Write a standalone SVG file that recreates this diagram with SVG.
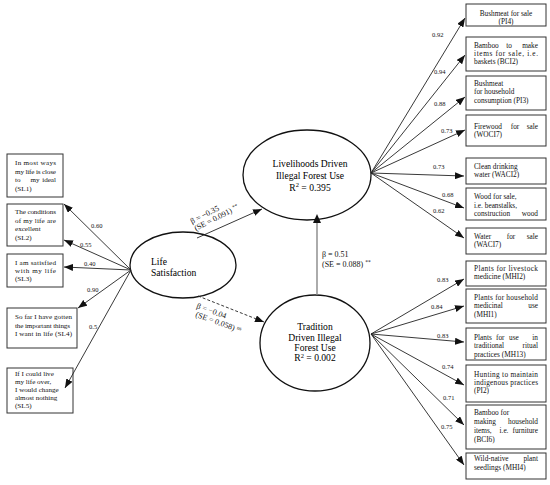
<svg xmlns="http://www.w3.org/2000/svg" width="550" height="485" viewBox="0 0 550 485">
<style>
.bx{fill:#fff;stroke:#333;stroke-width:1}
text{font-family:"Liberation Serif","Times New Roman",serif;fill:#111}
.t{font-size:7.3px}
.tl{font-size:7.1px}
.e{font-size:9.6px;fill:#000}
.c{font-size:6.5px;fill:#555}
.b{font-size:8px;fill:#333}
.m{text-anchor:middle}
.r{text-anchor:end}
.ln{stroke:#222;stroke-width:0.9;fill:none;marker-end:url(#ah)}
.el{fill:#fff;stroke:#111;stroke-width:1.3}
</style>
<defs>
<marker id="ah" markerUnits="userSpaceOnUse" markerWidth="9" markerHeight="7" refX="9" refY="3.5" orient="auto">
<path d="M0,0 L9,3.5 L0,7 z" fill="#111"/>
</marker>
</defs>

<g id="life">
<ellipse class="el" cx="183" cy="265" rx="53" ry="33"/>
<text class="e" x="151" y="265">Life</text>
<text class="e" x="151" y="276">Satisfaction</text>
</g>
<g id="livelihoods">
<ellipse class="el" cx="307" cy="175" rx="64" ry="45"/>
<text class="e m" x="310" y="167">Livelihoods Driven</text>
<text class="e m" x="310" y="179">Illegal Forest Use</text>
<text class="e m" x="310" y="190.5">R<tspan font-size="6.5" dy="-3.5">2</tspan><tspan dy="3.5"> = 0.395</tspan></text>
</g>
<g id="tradition">
<ellipse class="el" cx="315" cy="343" rx="55" ry="48"/>
<text class="e m" x="315" y="330">Tradition</text>
<text class="e m" x="315" y="340.5">Driven Illegal</text>
<text class="e m" x="315" y="351">Forest Use</text>
<text class="e m" x="315" y="361">R<tspan font-size="6.5" dy="-3.5">2</tspan><tspan dy="3.5"> = 0.002</tspan></text>
</g>

<g id="sl1" class="tl">
<rect class="bx" x="7" y="154" width="56" height="43"/>
<text x="15" y="165" textLength="41" lengthAdjust="spacing">In most ways</text>
<text x="15" y="173.5" textLength="41" lengthAdjust="spacing">my life is close</text>
<text x="15" y="182">to</text><text class="m" x="35" y="182">my</text><text class="r" x="56" y="182">ideal</text>
<text x="15" y="190.5">(SL1)</text>
</g>
<g id="sl2" class="tl">
<rect class="bx" x="7" y="204" width="56" height="42"/>
<text x="15" y="214" textLength="41" lengthAdjust="spacing">The conditions</text>
<text x="15" y="222.5" textLength="41" lengthAdjust="spacing">of my life are</text>
<text x="15" y="231">excellent</text>
<text x="15" y="239.5">(SL2)</text>
</g>
<g id="sl3" class="tl">
<rect class="bx" x="7" y="254" width="56" height="33"/>
<text x="15" y="265" textLength="41" lengthAdjust="spacing">I am satisfied</text>
<text x="15" y="273" textLength="41" lengthAdjust="spacing">with my life</text>
<text x="15" y="281">(SL3)</text>
</g>
<g id="sl4" class="tl">
<rect class="bx" x="7" y="308" width="70" height="40"/>
<text x="15" y="319" textLength="57" lengthAdjust="spacing">So far I have gotten</text>
<text x="15" y="327.5" textLength="55" lengthAdjust="spacing">the important things</text>
<text x="15" y="336" textLength="57" lengthAdjust="spacing">I want in life (SL4)</text>
</g>
<g id="sl5" class="tl">
<rect class="bx" x="7" y="368" width="66" height="45"/>
<text x="15" y="376">If I could live</text>
<text x="15" y="384">my life over,</text>
<text x="15" y="392">I would change</text>
<text x="15" y="400">almost nothing</text>
<text x="15" y="408">(SL5)</text>
</g>

<g id="pi4" class="t">
<rect class="bx" x="466" y="4" width="80" height="22"/>
<text class="m" x="506" y="16">Bushmeat for sale</text>
<text class="m" x="506" y="24">(PI4)</text>
</g>
<g id="bci2" class="t">
<rect class="bx" x="466" y="37" width="80" height="34"/>
<text x="474" y="47.5">Bamboo</text><text class="m" x="509" y="47.5">to</text><text class="r" x="538" y="47.5">make</text>
<text x="474" y="55.5" textLength="64" lengthAdjust="spacing">items for sale, i.e.</text>
<text x="474" y="63.5">baskets (BCI2)</text>
</g>
<g id="pi3" class="t">
<rect class="bx" x="466" y="76" width="80" height="34"/>
<text x="474" y="86">Bushmeat</text>
<text x="474" y="94.3">for household</text>
<text x="474" y="102.5">consumption (PI3)</text>
</g>
<g id="woci7" class="t">
<rect class="bx" x="466" y="115" width="80" height="31"/>
<text x="474" y="128.5">Firewood</text><text class="m" x="515" y="128.5">for</text><text class="r" x="538" y="128.5">sale</text>
<text x="474" y="137">(WOCI7)</text>
</g>
<g id="waci2" class="t">
<rect class="bx" x="466" y="158" width="80" height="26"/>
<text x="474" y="168.5">Clean drinking</text>
<text x="474" y="177">water (WACI2)</text>
</g>
<g id="wood" class="t">
<rect class="bx" x="466" y="188" width="80" height="32"/>
<text x="474" y="199">Wood for sale,</text>
<text x="474" y="207.5">i.e. beanstalks,</text>
<text x="474" y="216">construction</text><text class="r" x="538" y="216">wood</text>
</g>
<g id="waci7" class="t">
<rect class="bx" x="466" y="228" width="80" height="26"/>
<text x="474" y="238.5">Water</text><text class="m" x="511" y="238.5">for</text><text class="r" x="538" y="238.5">sale</text>
<text x="474" y="247">(WACI7)</text>
</g>
<g id="mhi2" class="t">
<rect class="bx" x="466" y="261" width="80" height="25"/>
<text x="474" y="270.7" textLength="64" lengthAdjust="spacing">Plants for livestock</text>
<text x="474" y="279">medicine (MHI2)</text>
</g>
<g id="mhi1" class="t">
<rect class="bx" x="466" y="289" width="80" height="34"/>
<text x="474" y="299.5" textLength="64" lengthAdjust="spacing">Plants for household</text>
<text x="474" y="308">medicinal</text><text class="r" x="538" y="308">use</text>
<text x="474" y="316.5">(MHI1)</text>
</g>
<g id="mhi13" class="t">
<rect class="bx" x="466" y="328" width="80" height="32"/>
<text x="474" y="339.5">Plants</text><text x="496" y="339.5">for</text><text x="509" y="339.5">use</text><text class="r" x="538" y="339.5">in</text>
<text x="474" y="348">traditional</text><text class="r" x="538" y="348">ritual</text>
<text x="474" y="356.7">practices (MH13)</text>
</g>
<g id="pi2" class="t">
<rect class="bx" x="466" y="365" width="80" height="37"/>
<text x="474" y="376.7" textLength="64" lengthAdjust="spacing">Hunting to maintain</text>
<text x="474" y="385" textLength="64" lengthAdjust="spacing">indigenous practices</text>
<text x="474" y="393.3">(PI2)</text>
</g>
<g id="bci6" class="t">
<rect class="bx" x="466" y="405" width="80" height="44"/>
<text x="474" y="415">Bamboo for</text>
<text x="474" y="424">making</text><text class="r" x="538" y="424">household</text>
<text x="474" y="433">items,</text><text class="m" x="504" y="433">i.e.</text><text class="r" x="538" y="433">furniture</text>
<text x="474" y="441.7">(BCI6)</text>
</g>
<g id="mhi4" class="t">
<rect class="bx" x="466" y="453" width="80" height="26"/>
<text x="474" y="460.7">Wild-native</text><text class="r" x="538" y="460.7">plant</text>
<text x="474" y="470">seedlings (MHI4)</text>
</g>

<g id="connectors">
<line class="ln" x1="131" y1="270" x2="64" y2="204"/>
<line class="ln" x1="131" y1="270" x2="64" y2="240"/>
<line class="ln" x1="131" y1="270" x2="64" y2="267"/>
<line class="ln" x1="131" y1="270" x2="78" y2="308"/>
<line class="ln" x1="131" y1="270" x2="65" y2="388"/>
<line class="ln" x1="197" y1="238" x2="262" y2="209"/>
<line class="ln" x1="198" y1="296" x2="264" y2="322" stroke-dasharray="3,2"/>
<line x1="317" y1="295" x2="317" y2="222" stroke="#888" stroke-width="1.4"/>
<path d="M313,223 L317,214 L321,223 z" fill="#111"/>
<line class="ln" x1="371" y1="173" x2="465" y2="18"/>
<line class="ln" x1="371" y1="173" x2="465" y2="55"/>
<line class="ln" x1="371" y1="173" x2="465" y2="97"/>
<line class="ln" x1="371" y1="173" x2="465" y2="130"/>
<line class="ln" x1="371" y1="173" x2="464" y2="176"/>
<line class="ln" x1="371" y1="173" x2="464" y2="208"/>
<line class="ln" x1="371" y1="173" x2="464" y2="238"/>
<line class="ln" x1="371" y1="334" x2="464" y2="279"/>
<line class="ln" x1="371" y1="334" x2="464" y2="306"/>
<line class="ln" x1="371" y1="334" x2="464" y2="342"/>
<line class="ln" x1="371" y1="334" x2="464" y2="385"/>
<line class="ln" x1="371" y1="334" x2="464" y2="425"/>
<line class="ln" x1="371" y1="334" x2="464" y2="465"/>
<g class="c">
<text x="91" y="228">0.60</text>
<text x="80" y="246.5">0.55</text>
<text x="84" y="266">0.40</text>
<text x="87" y="291.5">0.90</text>
<text x="89" y="329">0.5</text>
<text x="432" y="36.5">0.92</text>
<text x="434" y="74">0.94</text>
<text x="434" y="106">0.88</text>
<text x="441" y="132.5">0.73</text>
<text x="433" y="169">0.73</text>
<text x="442" y="196.5">0.68</text>
<text x="433" y="212.5">0.62</text>
<text x="437" y="281.5">0.83</text>
<text x="431" y="309">0.84</text>
<text x="437" y="337.5">0.83</text>
<text x="442" y="368.5">0.74</text>
<text x="443" y="400">0.71</text>
<text x="441" y="428.5">0.75</text>
</g>
<g class="b">
<text transform="translate(192,224) rotate(-27)">β = −0.35</text>
<text transform="translate(196,231) rotate(-27)">(SE = 0.091) <tspan font-size="5.5" dy="-2.5">**</tspan></text>
<text transform="translate(196,308) rotate(20)">β = −0.04</text>
<text transform="translate(195,316.5) rotate(20)">(SE = 0.058) <tspan font-size="5.5" dy="-2.5">ns</tspan></text>
<text x="322" y="257">β = 0.51</text>
<text x="322" y="266.5">(SE = 0.088) <tspan font-size="5.5" dy="-2.5">**</tspan></text>
</g>
</g>
</svg>
